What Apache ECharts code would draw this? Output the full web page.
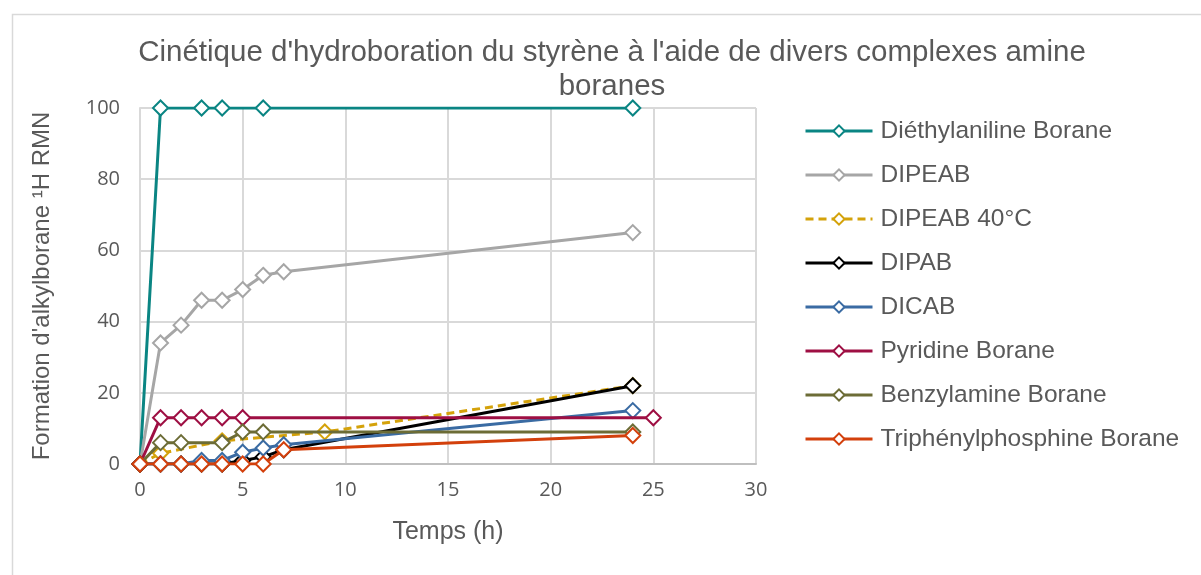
<!DOCTYPE html>
<html><head><meta charset="utf-8">
<script src="https://cdn.jsdelivr.net/npm/echarts@6/dist/echarts.min.js"></script>
<style>html,body{margin:0;padding:0;background:#fff}#c{width:1201px;height:575px}</style>
</head><body><div id="c"></div>
<script>
const titleText = "Cinétique d'hydroboration du styrène à l'aide de divers complexes amine\nboranes";
const xAxisName = "Temps (h)";
const yAxisName = "Formation d'alkylborane ¹H RMN";
const seriesNames = ["Diéthylaniline Borane","DIPEAB","DIPEAB 40°C","DIPAB","DICAB","Pyridine Borane","Benzylamine Borane","Triphénylphosphine Borane"];
const seriesColors = ["#0A8583","#A6A6A6","#D4A20A","#000000","#3A6BA3","#9E0F43","#6C6C36","#D3400C"];
const diethylaniline = [[0,0],[1,100],[3,100],[4,100],[6,100],[24,100]];
const dipeab = [[0,0],[1,34],[2,39],[3,46],[4,46],[5,49],[6,53],[7,54],[24,65]];
const dipeab40 = [[0,0],[1,3],[4,6.5],[9,9],[24,22]];
const dipab = [[0,0],[1,0],[2,0],[3,0],[4,0],[5,1],[6,2],[7,4],[24,22]];
const dicab = [[0,0],[1,0],[2,0],[3,1],[4,1],[5,3.3],[6,4.5],[7,5.4],[24,15]];
const pyridine = [[0,0],[1,13],[2,13],[3,13],[4,13],[5,13],[25,13]];
const benzylamine = [[0,0],[1,6],[2,6],[4,6],[5,9],[6,9],[24,9]];
const triphenyl = [[0,0],[1,0],[2,0],[3,0],[4,0],[5,0],[6,0],[7,4],[24,8]];
const seriesData = [diethylaniline,dipeab,dipeab40,dipab,dicab,pyridine,benzylamine,triphenyl];

const chart = echarts.init(document.getElementById('c'));
const series = seriesNames.map((n,i)=>({
  name:n, type:'line', data:seriesData[i],
  symbol:'diamond', symbolSize:15,
  lineStyle:{color:seriesColors[i], width:3, type: i===2 ? [8,5] : 'solid'},
  itemStyle:{color:'#fff', borderColor:seriesColors[i], borderWidth:2},
  emphasis:{disabled:true}, animation:false, z: 2+i
}));
chart.setOption({
  animation:false,
  graphic:[{type:'rect', left:10, top:12, shape:{width:1300,height:700}, style:{fill:'none', stroke:'#d9d9d9', lineWidth:1.5}, silent:true}],
  title:{text:titleText, left:607, textAlign:'center', top:31,
    textStyle:{fontFamily:'Liberation Sans', fontSize:29.5, fontWeight:'normal', color:'#595959', lineHeight:34}},
  legend:{orient:'vertical', left:799, top:111, itemWidth:67, itemHeight:14, itemGap:14,
    lineStyle:{width:3},
    textStyle:{fontFamily:'Liberation Sans', fontSize:24.5, color:'#595959', padding:[0,0,0,3], lineHeight:30},
    data:seriesNames.map((n,i)=>({name:n}))},
  grid:{left:140, right:445, top:108, bottom:111, containLabel:false},
  xAxis:{type:'value', min:0, max:30, interval:5, name:xAxisName, nameLocation:'middle', nameGap:56,
    nameTextStyle:{fontFamily:'Liberation Sans', fontSize:25, color:'#595959'},
    axisLine:{show:true, lineStyle:{color:'#bfbfbf', width:2}}, axisTick:{show:false},
    axisLabel:{fontFamily:'Open Sans', fontSize:20, color:'#595959', margin:16},
    splitLine:{show:true, lineStyle:{color:'#d9d9d9', width:2}}},
  yAxis:{type:'value', min:0, max:100, interval:20, name:yAxisName, nameLocation:'middle', nameGap:86,
    nameTextStyle:{fontFamily:'Liberation Sans', fontSize:24, color:'#595959'},
    axisLine:{show:true, lineStyle:{color:'#d9d9d9', width:2}}, axisTick:{show:false},
    axisLabel:{fontFamily:'Open Sans', fontSize:20, color:'#595959', margin:20},
    splitLine:{show:true, lineStyle:{color:'#d9d9d9', width:2}}},
  series:series
});
</script></body></html>
